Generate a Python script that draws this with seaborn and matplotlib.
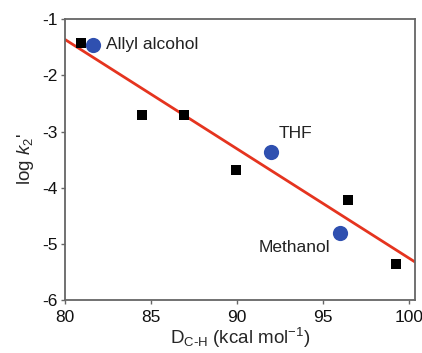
import matplotlib
matplotlib.use("Agg")
import matplotlib.pyplot as plt
import seaborn as sns
import pandas as pd

# Data
sq_x = [80.95, 84.5, 86.95, 89.95, 96.45, 99.25]
sq_y = [-1.42, -2.70, -2.70, -3.69, -4.22, -5.35]

circ_names = ["Allyl alcohol", "THF", "Methanol"]
circ_x = [81.65, 92.0, 96.0]
circ_y = [-1.45, -3.37, -4.81]

fit_x = [80.0, 100.35]
fit_y = [-1.36, -5.32]

x_ticks = [80, 85, 90, 95, 100]
y_ticks = [-6, -5, -4, -3, -2, -1]

sns.set_style("ticks")
plt.rcParams['font.family'] = ['Liberation Sans', 'DejaVu Sans']
plt.rcParams['axes.unicode_minus'] = False
plt.rcParams['mathtext.fontset'] = 'custom'
plt.rcParams['mathtext.rm'] = 'Liberation Sans'
plt.rcParams['mathtext.it'] = 'Liberation Sans:italic'

fig = plt.figure(figsize=(4.22, 3.53), dpi=100)
ax = fig.add_axes([0.154, 0.150, 0.829, 0.797])

df_sq = pd.DataFrame({"x": sq_x, "y": sq_y})
df_c = pd.DataFrame({"x": circ_x, "y": circ_y, "name": circ_names})
df_fit = pd.DataFrame({"x": fit_x, "y": fit_y})

sns.lineplot(data=df_fit, x="x", y="y", ax=ax, color="#e5341f", linewidth=2.0, zorder=2)
sns.scatterplot(data=df_sq, x="x", y="y", ax=ax, marker="s", s=58, color="black",
                edgecolor="black", linewidth=0, zorder=3)
sns.scatterplot(data=df_c, x="x", y="y", ax=ax, marker="o", s=120, color="#2f50b0",
                edgecolor="#2f50b0", linewidth=0, zorder=4)

offsets = [(9, 0, "left"), (5, 13.5, "left"), (-7, -10, "right")]
for (name, cx, cy), (dx, dy, ha) in zip(zip(circ_names, circ_x, circ_y), offsets):
    ax.annotate(name, (cx, cy), xytext=(dx, dy), textcoords="offset points",
                ha=ha, va="center", fontsize=12.5, color="#222222")

ax.set_xlim(80, 100.35)
ax.set_ylim(-6, -0.99)
ax.set_xticks(x_ticks)
ax.set_yticks(y_ticks)
ax.tick_params(axis="both", labelsize=12.5, length=3, width=1, color="#666666",
               direction="out", pad=2, labelcolor="#111111")
ax.tick_params(axis="x", pad=4)
for sp in ax.spines.values():
    sp.set_color("#666666")
    sp.set_linewidth(1.3)

ax.set_xlabel(r"D$_{\mathrm{C\text{-}H}}$ (kcal mol$^{\mathrm{-1}}$)", fontsize=13.5, labelpad=1)
ax.set_ylabel(r"log $k_{2}$'", fontsize=13.5, labelpad=5)

fig.savefig("out.png", dpi=100)
